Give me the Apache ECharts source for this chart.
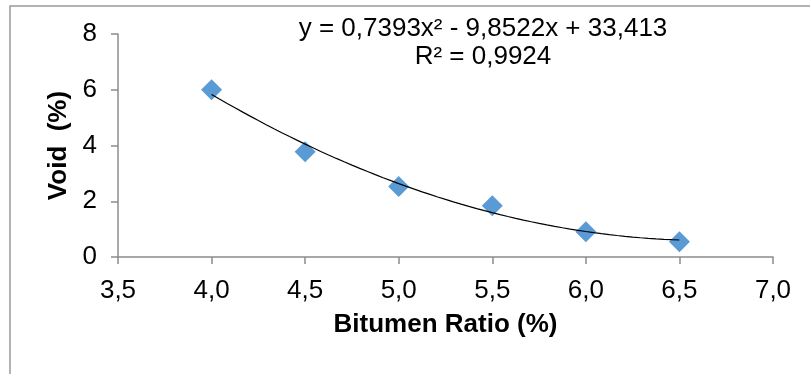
<!DOCTYPE html>
<html>
<head>
<meta charset="utf-8">
<script src="https://cdn.jsdelivr.net/npm/echarts@6/dist/echarts.min.js"></script>
<style>
  html, body { margin: 0; padding: 0; background: #ffffff; }
  #chart { width: 810px; height: 374px; }
</style>
</head>
<body>
<div id="chart"></div>
<script>
// Measured void content for each bitumen ratio
const bitumenRatio = [4.0, 4.5, 5.0, 5.5, 6.0, 6.5];
const voidPct = [6.0, 3.78, 2.53, 1.84, 0.91, 0.55];

// Polynomial trendline (order 2): y = a x^2 + b x + c
const trendCoef = [0.7393, -9.8522, 33.413];
const trendLabel = ['y = 0,7393x\u00B2 - 9,8522x + 33,413', 'R\u00B2 = 0,9924'];

// Axis ranges
const xRange = [3.5, 7.0, 0.5];
const yRange = [0, 8, 2];

// Sample the fitted curve over the span of the measured data
const trendPoints = [];
const xStart = bitumenRatio[0], xEnd = bitumenRatio[bitumenRatio.length - 1];
const steps = 60;
for (let i = 0; i <= steps; i++) {
  const x = xStart + (xEnd - xStart) * i / steps;
  trendPoints.push([x, trendCoef[0] * x * x + trendCoef[1] * x + trendCoef[2]]);
}

const comma = v => v.toFixed(1).replace('.', ',');
const FONT = '"Liberation Sans", Arial, sans-serif';
const FS = 26;

const chart = echarts.init(document.getElementById('chart'), null, { renderer: 'canvas' });
chart.setOption({
  backgroundColor: '#ffffff',
  animation: false,
  textStyle: { fontFamily: FONT },
  grid: { left: 118, right: 37, top: 34, bottom: 117 },
  xAxis: {
    type: 'value',
    min: xRange[0], max: xRange[1], interval: xRange[2],
    name: 'Bitumen Ratio (%)',
    nameLocation: 'middle',
    nameGap: 55,
    nameTextStyle: { fontSize: FS, fontWeight: 'bold', color: '#000', fontFamily: FONT },
    axisLine: { show: true, lineStyle: { color: '#8c8c8c', width: 1.5 } },
    axisTick: { show: true, inside: false, length: 7, lineStyle: { color: '#8c8c8c', width: 1.5 } },
    axisLabel: { fontSize: FS, color: '#000', margin: 21, formatter: comma, fontFamily: FONT },
    splitLine: { show: false }
  },
  yAxis: {
    type: 'value',
    min: yRange[0], max: yRange[1], interval: yRange[2],
    name: 'Void  (%)',
    nameLocation: 'middle',
    nameGap: 45,
    nameTextStyle: { fontSize: FS, fontWeight: 'bold', color: '#000', fontFamily: FONT },
    axisLine: { show: true, lineStyle: { color: '#8c8c8c', width: 1.5 } },
    axisTick: { show: true, inside: false, length: 7, lineStyle: { color: '#8c8c8c', width: 1.5 } },
    axisLabel: { fontSize: FS, color: '#000', margin: 21, fontFamily: FONT },
    splitLine: { show: false }
  },
  graphic: [
    {
      type: 'rect', silent: true, z: -1,
      shape: { x: 10, y: 6, width: 900, height: 500 },
      style: { fill: 'none', stroke: '#9a9a9a', lineWidth: 1.5 }
    },
    {
      type: 'text', silent: true,
      x: 483, y: 29,
      style: { text: trendLabel[0], fontSize: FS, fill: '#000', fontFamily: FONT, textAlign: 'center', textVerticalAlign: 'middle' }
    },
    {
      type: 'text', silent: true,
      x: 483, y: 57,
      style: { text: trendLabel[1], fontSize: FS, fill: '#000', fontFamily: FONT, textAlign: 'center', textVerticalAlign: 'middle' }
    }
  ],
  series: [
    {
      type: 'line',
      data: trendPoints,
      showSymbol: false,
      symbol: 'none',
      smooth: false,
      lineStyle: { color: '#000', width: 1.2 },
      z: 3
    },
    {
      type: 'scatter',
      data: bitumenRatio.map((x, i) => [x, voidPct[i]]),
      symbol: 'diamond',
      symbolSize: [21, 21],
      itemStyle: { color: '#5b9bd5', opacity: 1 },
      z: 2
    }
  ]
});
</script>
</body>
</html>
